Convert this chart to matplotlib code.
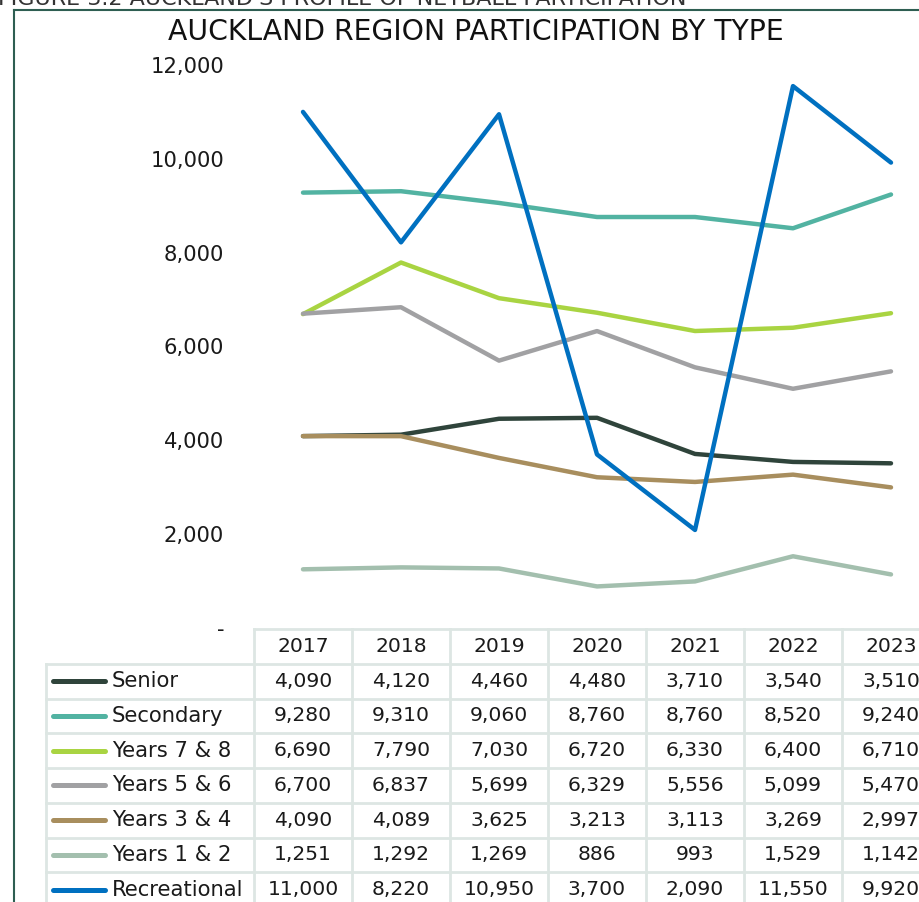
import matplotlib.pyplot as plt
from matplotlib.ticker import FuncFormatter
from matplotlib.lines import Line2D

plt.rcParams['font.family'] = ['DejaVu Sans']

years = ['2017', '2018', '2019', '2020', '2021', '2022', '2023']
senior = [4090, 4120, 4460, 4480, 3710, 3540, 3510]
secondary = [9280, 9310, 9060, 8760, 8760, 8520, 9240]
years_78 = [6690, 7790, 7030, 6720, 6330, 6400, 6710]
years_56 = [6700, 6837, 5699, 6329, 5556, 5099, 5470]
years_34 = [4090, 4089, 3625, 3213, 3113, 3269, 2997]
years_12 = [1251, 1292, 1269, 886, 993, 1529, 1142]
recreational = [11000, 8220, 10950, 3700, 2090, 11550, 9920]

names = ['Senior', 'Secondary', 'Years 7 & 8', 'Years 5 & 6',
         'Years 3 & 4', 'Years 1 & 2', 'Recreational']
series = [senior, secondary, years_78, years_56, years_34, years_12, recreational]
colors = ['#2f443b', '#52b3a2', '#a9d442', '#a1a1a3', '#a88e5e', '#a3bfae', '#0070c0']

W, H = 919, 902
fig = plt.figure(figsize=(W / 100, H / 100), dpi=100)
FS = 15.2
NFS = 14.6  # table numbers


# pixel helpers for layout
def fx(px):
    return px / W


def fy(py):
    return 1 - py / H


left_px, right_px = 254, 940
ax = fig.add_axes([fx(left_px), fy(628), fx(right_px - left_px), fy(65) - fy(628)])
x = list(range(len(years)))
for vals, c in zip(series, colors):
    ax.plot(x, vals, color=c, lw=3.2, solid_capstyle='round', solid_joinstyle='round',
            clip_on=False)
ax.set_xlim(-0.5, len(years) - 0.5)
ax.set_ylim(0, 12000)
ax.set_yticks(range(0, 12001, 2000))
ax.yaxis.set_major_formatter(FuncFormatter(lambda v, p: '-' if v == 0 else f'{int(v):,}'))
ax.set_xticks([])
ax.tick_params(axis='y', length=0, pad=21.5, labelsize=FS, labelcolor='#1a1a1a')
for s in ax.spines.values():
    s.set_visible(False)
ax.patch.set_alpha(0)

# data table
tab = fig.add_axes([fx(left_px), fy(907), fx(right_px - left_px), fy(629) - fy(907)])
tab.set_xlim(-0.5, len(years) - 0.5)
tab.set_ylim(len(names) + 1, 0)
tab.axis('off')
grid = '#dde6e3'
leg_left = -0.5 - (left_px - 46) / 98
for i, yr in enumerate(years):
    tab.text(i, 0.5, yr, ha='center', va='center', fontsize=NFS, color='#1a1a1a')
for r, (nm, vals, c) in enumerate(zip(names, series, colors)):
    yc = r + 1.5
    for i, v in enumerate(vals):
        tab.text(i, yc, f'{v:,}', ha='center', va='center', fontsize=NFS, color='#1a1a1a')
    tab.add_line(Line2D([leg_left + 0.07, leg_left + 0.6], [yc, yc], color=c, lw=3.6,
                        solid_capstyle='round', clip_on=False))
    tab.text(leg_left + 0.67, yc, nm, ha='left', va='center', fontsize=FS,
             color='#1a1a1a', clip_on=False)
# grid lines
tab.add_line(Line2D([-0.5, len(years) - 0.5], [0, 0], color=grid, lw=2, clip_on=False))
for r in range(1, len(names) + 2):
    tab.add_line(Line2D([leg_left, len(years) - 0.5], [r, r], color=grid, lw=2, clip_on=False))
for i in range(len(years) + 1):
    tab.add_line(Line2D([i - 0.5, i - 0.5], [0, len(names) + 1], color=grid, lw=2, clip_on=False))
tab.add_line(Line2D([leg_left, leg_left], [1, len(names) + 1], color=grid, lw=2, clip_on=False))

fig.text(fx(476), fy(32), 'AUCKLAND REGION PARTICIPATION BY TYPE', ha='center', va='center',
         fontsize=20.3, color='#111111')
fig.text(fx(-2), fy(-1), "FIGURE 3.2 AUCKLAND'S PROFILE OF NETBALL PARTICIPATION", ha='left',
         va='center', fontsize=16, color='#333333')

# chart border
fig.add_artist(Line2D([fx(14), fx(14)], [fy(10), 0], color='#2e5e52', lw=1.5))
fig.add_artist(Line2D([fx(14), 1], [fy(10), fy(10)], color='#2e5e52', lw=1.5))

fig.savefig('out.png', dpi=100)
